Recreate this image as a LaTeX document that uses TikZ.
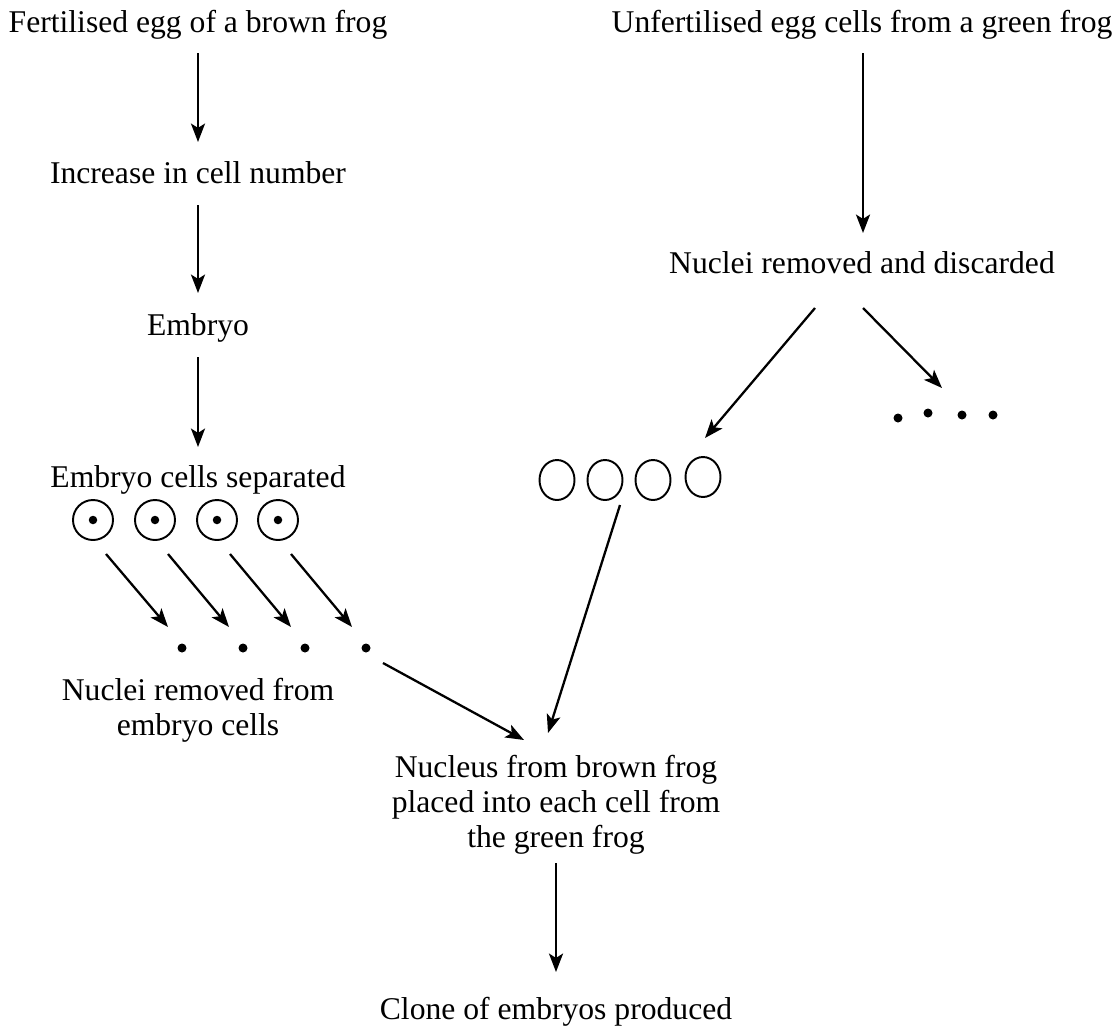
\documentclass[tikz,border=0pt]{standalone}
\usepackage{fontspec}
\setmainfont{Liberation Serif}
\usetikzlibrary{arrows.meta,shapes.geometric}

\tikzset{
  lbl/.style={inner sep=0pt,anchor=base,align=center,font=\fontsize{18}{19.9}\selectfont},
  arr/.style={line width=1.3pt,-{Stealth[length=10.5pt,width=8pt,inset=2.5pt]}},
  cell/.style={draw,circle,line width=1.1pt,minimum size=8mm,inner sep=0pt},
  egg/.style={draw,ellipse,line width=1.1pt,minimum width=7mm,minimum height=8mm,inner sep=0pt},
  nuc/.style={fill,circle,minimum size=1.8mm,inner sep=0pt}
}

\begin{document}
\begin{tikzpicture}[x=0.2mm,y=-0.2mm]
\useasboundingbox (0,0) rectangle (1116,1026);
% brown frog side
\node[lbl] (fert) at (198,32) {Fertilised egg of a brown frog};
\node[lbl] (incr) at (198,183) {Increase in cell number};
\node[lbl] (embryo) at (198,335) {Embryo};
\node[lbl] (sep) at (198,487) {Embryo cells separated};
\node[lbl] (nuclei) at (198,735) {Nuclei removed from\\embryo cells};
\draw[arr] ([shift={(0,21)}]fert.base) -- ([shift={(0,-41)}]incr.base);
\draw[arr] ([shift={(0,22)}]incr.base) -- ([shift={(0,-42)}]embryo.base);
\draw[arr] ([shift={(0,22)}]embryo.base) -- ([shift={(0,-40)}]sep.base);
% separated cells and their nuclei
\node[cell] (c1) at (93,520) {};
\node[cell] (c2) at (155,520) {};
\node[cell] (c3) at (217,520) {};
\node[cell] (c4) at (278,520) {};
\node[nuc,minimum size=1.7mm] (k1) at (c1) {};
\node[nuc,minimum size=1.7mm] (k2) at (c2) {};
\node[nuc,minimum size=1.7mm] (k3) at (c3) {};
\node[nuc,minimum size=1.7mm] (k4) at (c4) {};
\node[nuc] (n1) at (182,648) {};
\node[nuc] (n2) at (243,648) {};
\node[nuc] (n3) at (305,648) {};
\node[nuc] (n4) at (366,648) {};
\draw[arr] ([shift={(13,34)}]c1.center) -- ([shift={(-14,-21)}]n1.center);
\draw[arr] ([shift={(13,34)}]c2.center) -- ([shift={(-14,-21)}]n2.center);
\draw[arr] ([shift={(13,34)}]c3.center) -- ([shift={(-14,-21)}]n3.center);
\draw[arr] ([shift={(13,34)}]c4.center) -- ([shift={(-14,-21)}]n4.center);
% green frog side
\node[lbl] (unfert) at (862,32) {Unfertilised egg cells from a green frog};
\node[lbl] (removed) at (862,273) {Nuclei removed and discarded};
\draw[arr] ([shift={(1,21)}]unfert.base) -- ([shift={(1,-40)}]removed.base);
\node[egg] (o1) at (557,480) {};
\node[egg] (o2) at (605,480) {};
\node[egg] (o3) at (653,480) {};
\node[egg] (o4) at (703,477) {};
\node[nuc] (d1) at (898,418) {};
\node[nuc] (d2) at (928,413) {};
\node[nuc] (d3) at (962,415) {};
\node[nuc] (d4) at (993,415) {};
\draw[arr] ([shift={(-47,35)}]removed.base) -- ([shift={(2,-39)}]o4.center);
\draw[arr] ([shift={(1,35)}]removed.base) -- ([shift={(14,-25)}]d2.center);
% the clone
\node[lbl] (nucleus) at (556,847) {Nucleus from brown frog\\placed into each cell from\\the green frog};
\node[lbl] (clone) at (556,1019) {Clone of embryos produced};
\draw[arr] ([shift={(17,15)}]n4.center) -- ([shift={(-32,-107)}]nucleus.base);
\draw[arr] ([shift={(15,25)}]o2.center) -- ([shift={(-8,-114)}]nucleus.base);
\draw[arr] ([shift={(0,16)}]nucleus.base) -- ([shift={(0,-47)}]clone.base);
\end{tikzpicture}
\end{document}
